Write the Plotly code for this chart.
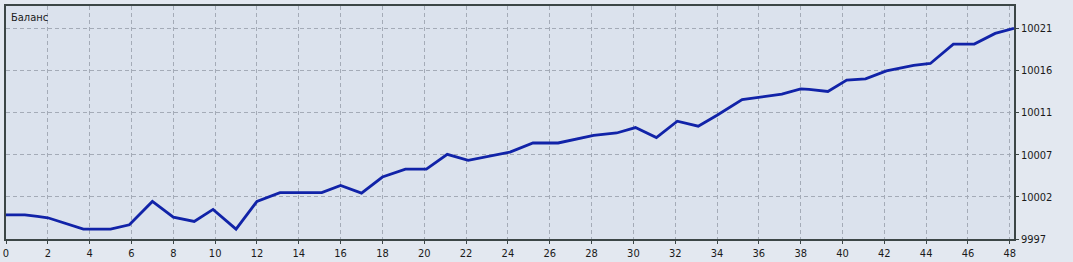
import plotly.graph_objects as go

# Trade number (x) and balance (y)
trades = [0, 0.9, 1.5, 2, 3.7, 5, 5.9, 7, 8, 9, 9.9, 11, 12, 13.1, 15.1, 16, 17, 18,
          19.1, 20.1, 21.1, 22.1, 24.1, 25.2, 26.4, 28.1, 29.2, 30.1, 31.1, 32.1,
          33.1, 34, 35.2, 36.1, 37.1, 38, 38.4, 39.3, 40.2, 41.1, 42.1, 43.4, 44.2,
          45.3, 46.3, 47.3, 48.2]
balance = [9999.76, 9999.76, 9999.57, 9999.42, 9998.12, 9998.12, 9998.62, 10001.28,
           9999.49, 9999.0, 10000.37, 9998.12, 10001.28, 10002.28, 10002.28, 10003.11,
           10002.23, 10004.06, 10004.97, 10004.97, 10006.65, 10005.96, 10006.91,
           10007.94, 10007.94, 10008.82, 10009.08, 10009.70, 10008.56, 10010.42,
           10009.85, 10011.10, 10012.89, 10013.19, 10013.50, 10014.10, 10014.04,
           10013.81, 10015.10, 10015.25, 10016.16, 10016.78, 10017.00, 10019.21,
           10019.21, 10020.43, 10021.0]

x_ticks = list(range(0, 50, 2))
y_tickvals = [9997, 10001.8, 10006.6, 10011.4, 10016.2, 10021]
y_ticktext = ["9997", "10002", "10007", "10011", "10016", "10021"]
title_text = "Баланс"

fig = go.Figure()
fig.add_trace(go.Scatter(
    x=trades, y=balance, mode="lines",
    line=dict(color="#1123a8", width=2.8),
    hoverinfo="skip", showlegend=False,
))

axis_font = dict(family="DejaVu Sans Condensed, DejaVu Sans", size=11, color="#1a1a1a")
grid_style = dict(showgrid=True, gridcolor="#a4abb7", griddash="4px,3px", gridwidth=1)

fig.update_layout(
    width=1073, height=262,
    margin=dict(l=6, r=59, t=6, b=23, autoexpand=False),
    paper_bgcolor="#e3e8f0",
    plot_bgcolor="#dbe2ed",
    showlegend=False,
    xaxis=dict(
        range=[0, 48.2],
        tickvals=x_ticks,
        ticktext=[str(v) for v in x_ticks],
        zeroline=False, automargin=False,
        showline=True, linecolor="#3c4646", linewidth=1.5, mirror=True,
        ticks="outside", ticklen=3, tickcolor="#3c4646",
        tickfont=axis_font,
        **grid_style,
    ),
    yaxis=dict(
        range=[9997, 10023.55],
        side="right",
        tickvals=y_tickvals,
        ticktext=y_ticktext,
        zeroline=False, automargin=False,
        showline=True, linecolor="#3c4646", linewidth=1.5, mirror=True,
        ticks="outside", ticklen=3, tickcolor="#3c4646",
        tickfont=axis_font,
        **grid_style,
    ),
    annotations=[dict(
        text=title_text, xref="paper", yref="paper", x=0.003, y=0.985,
        xanchor="left", yanchor="top", showarrow=False,
        font=dict(family="DejaVu Sans Condensed, DejaVu Sans", size=11, color="#1a1a1a"),
    )],
)

fig.write_html("out.html")
